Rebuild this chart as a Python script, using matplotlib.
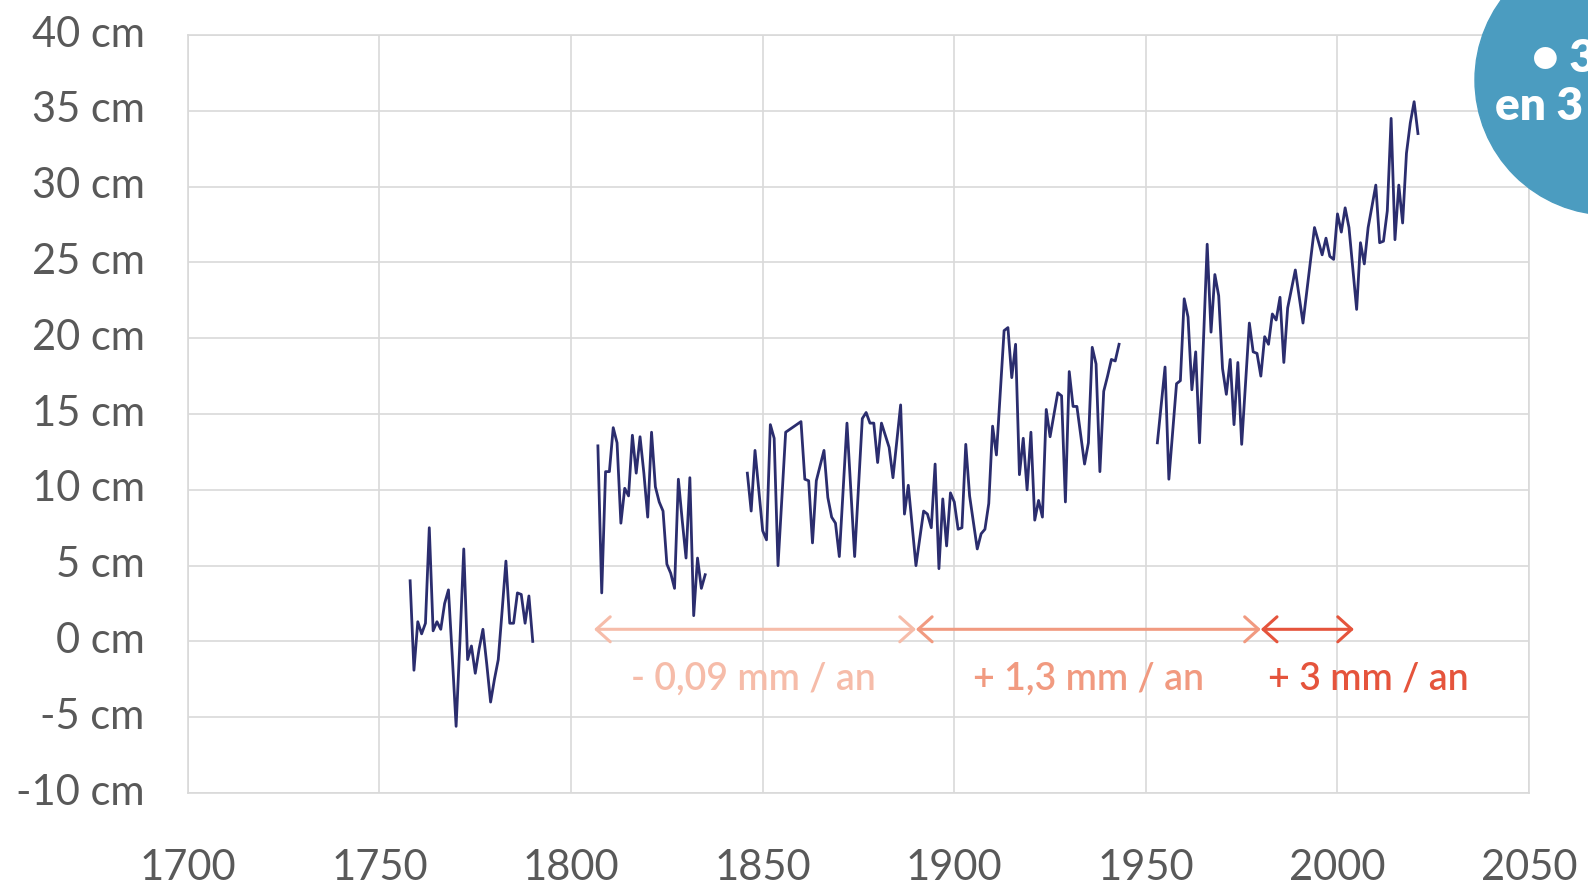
import numpy as np
import matplotlib.pyplot as plt
import matplotlib.transforms as mtransforms
from matplotlib.patches import Circle

plt.rcParams['font.family'] = ['Lato', 'DejaVu Sans']

# annual mean sea level (cm), four observation periods
years_a = [1758, 1759, 1760, 1761, 1762, 1763, 1764, 1765, 1766, 1767, 1768, 1769, 1770,
           1771, 1772, 1773, 1774, 1775, 1776, 1777, 1778, 1779, 1780, 1781, 1782, 1783,
           1784, 1785, 1786, 1787, 1788, 1789, 1790]
level_a = [4.0, -1.9, 1.3, 0.5, 1.2, 7.5, 0.7, 1.3, 0.8, 2.5, 3.4, -1.0, -5.6,
           0.0, 6.1, -1.2, -0.3, -2.1, -0.5, 0.8, -1.5, -4.0, -2.5, -1.2, 2.0, 5.3,
           1.2, 1.2, 3.2, 3.1, 1.2, 3.0, 0.0]

years_b = [1807, 1808, 1809, 1810, 1811, 1812, 1813, 1814, 1815, 1816, 1817, 1818, 1819,
           1820, 1821, 1822, 1823, 1824, 1825, 1826, 1827, 1828, 1829, 1830, 1831, 1832,
           1833, 1834, 1835]
level_b = [12.9, 3.2, 11.2, 11.2, 14.1, 13.1, 7.8, 10.1, 9.6, 13.6, 11.1, 13.5, 11.1,
           8.2, 13.8, 10.2, 9.2, 8.6, 5.1, 4.5, 3.5, 10.7, 8.0, 5.5, 10.8, 1.7,
           5.5, 3.5, 4.4]

years_c = [1846, 1847, 1848, 1850, 1851, 1852, 1853, 1854, 1856, 1860, 1861, 1862, 1863,
           1864, 1866, 1867, 1868, 1869, 1870, 1872, 1874, 1876, 1877, 1878, 1879, 1880,
           1881, 1883, 1884, 1886, 1887, 1888, 1890, 1892, 1893, 1894, 1895, 1896, 1897,
           1898, 1899, 1900, 1901, 1902, 1903, 1904, 1906, 1907, 1908, 1909, 1910, 1911,
           1913, 1914, 1915, 1916, 1917, 1918, 1919, 1920, 1921, 1922, 1923, 1924, 1925,
           1927, 1928, 1929, 1930, 1931, 1932, 1934, 1935, 1936, 1937, 1938, 1939, 1940,
           1941, 1942, 1943]
level_c = [11.1, 8.6, 12.6, 7.3, 6.7, 14.3, 13.4, 5.0, 13.8, 14.5, 10.7, 10.6, 6.5,
           10.6, 12.6, 9.5, 8.2, 7.8, 5.6, 14.4, 5.6, 14.7, 15.1, 14.4, 14.4, 11.8,
           14.4, 12.8, 10.8, 15.6, 8.4, 10.3, 5.0, 8.6, 8.4, 7.5, 11.7, 4.8, 9.4,
           6.3, 9.8, 9.2, 7.4, 7.5, 13.0, 9.6, 6.1, 7.1, 7.4, 9.1, 14.2, 12.3,
           20.5, 20.7, 17.4, 19.6, 11.0, 13.4, 10.0, 13.8, 8.0, 9.3, 8.2, 15.3, 13.5,
           16.4, 16.2, 9.2, 17.8, 15.5, 15.5, 11.7, 13.1, 19.4, 18.3, 11.2, 16.5, 17.5,
           18.6, 18.5, 19.6]

years_d = [1953, 1955, 1956, 1958, 1959, 1960, 1961, 1962, 1963, 1964, 1966, 1967, 1968,
           1969, 1970, 1971, 1972, 1973, 1974, 1975, 1977, 1978, 1979, 1980, 1981, 1982,
           1983, 1984, 1985, 1986, 1987, 1989, 1991, 1994, 1996, 1997, 1998, 1999, 2000,
           2001, 2002, 2003, 2005, 2006, 2007, 2008, 2010, 2011, 2012, 2013, 2014, 2015,
           2016, 2017, 2018, 2019, 2020, 2021]
level_d = [13.1, 18.1, 10.7, 17.0, 17.2, 22.6, 21.4, 16.6, 19.1, 13.1, 26.2, 20.4, 24.2,
           22.8, 18.0, 16.3, 18.6, 14.3, 18.4, 13.0, 21.0, 19.1, 19.0, 17.5, 20.1, 19.6,
           21.6, 21.2, 22.7, 18.4, 22.0, 24.5, 21.0, 27.3, 25.5, 26.6, 25.4, 25.2, 28.2,
           27.0, 28.6, 27.3, 21.9, 26.3, 24.9, 27.3, 30.1, 26.3, 26.4, 28.4, 34.5, 26.5,
           30.1, 27.6, 32.2, 34.2, 35.6, 33.5]

# trend periods
trend_start = [1806, 1890, 1980]
trend_end = [1890, 1980, 2004.3]
trend_label = ["- 0,09 mm / an", "+ 1,3 mm / an", "+ 3 mm / an"]
trend_label_x = [1847.6, 1935.1, 2008.0]
trend_color = ["#f6bca9", "#f19a80", "#e5543c"]

LINE = "#2b2d6e"
GRID = "#d9d9d9"
TXT = "#595959"

fig = plt.figure(figsize=(15.88, 8.84), dpi=100)
ax = fig.add_axes([0.1183, 0.1029, 0.8446, 0.8575])

for yrs, lvl in [(years_a, level_a), (years_b, level_b), (years_c, level_c), (years_d, level_d)]:
    ax.plot(yrs, lvl, color=LINE, lw=2.0, zorder=3)

for x0, x1, lab, lx, c in zip(trend_start, trend_end, trend_label, trend_label_x, trend_color):
    ax.annotate("", xy=(x1, 0.8), xytext=(x0, 0.8),
                arrowprops=dict(arrowstyle="<->,head_length=0.5,head_width=0.45",
                                color=c, lw=2.2, mutation_scale=20,
                                shrinkA=0, shrinkB=0), zorder=4)
    ax.text(lx, -2.5, lab, color=c, fontsize=27, ha="center", va="center",
            fontweight="semibold", zorder=4)

ax.set_xlim(1700, 2050)
ax.set_ylim(-10, 40)
ax.set_xticks(np.arange(1700, 2051, 50))
ax.set_yticks(np.arange(-10, 41, 5))
ax.set_yticklabels([f"{v} cm" for v in range(-10, 41, 5)])
ax.tick_params(length=0, labelsize=30, labelcolor=TXT)
ax.tick_params(axis="y", pad=31)
ax.tick_params(axis="x", pad=40)
ax.grid(True, color=GRID, lw=1.2)
ax.set_axisbelow(True)
for sp in ax.spines.values():
    sp.set_color(GRID)
    sp.set_linewidth(1.2)
# y labels sit a little above their gridlines in the original
up = mtransforms.ScaledTranslation(0, 4 / 100, fig.dpi_scale_trans)
for lbl in ax.get_yticklabels():
    lbl.set_transform(lbl.get_transform() + up)

# blue badge in the top-right corner, in pixel coordinates
ov = fig.add_axes([0, 0, 1, 1])
ov.set_xlim(0, 1588)
ov.set_ylim(884, 0)
ov.axis("off")
ov.patch.set_alpha(0)
ov.add_patch(Circle((1610, 80), 135, color="#4b9cc0", zorder=1))
ov.text(1532, 58, "• 3", color="white", fontsize=33, fontweight="heavy",
        ha="left", va="center")
ov.text(1495, 106, "en 3", color="white", fontsize=33, fontweight="heavy",
        ha="left", va="center")

fig.savefig("out.png", dpi=100)
